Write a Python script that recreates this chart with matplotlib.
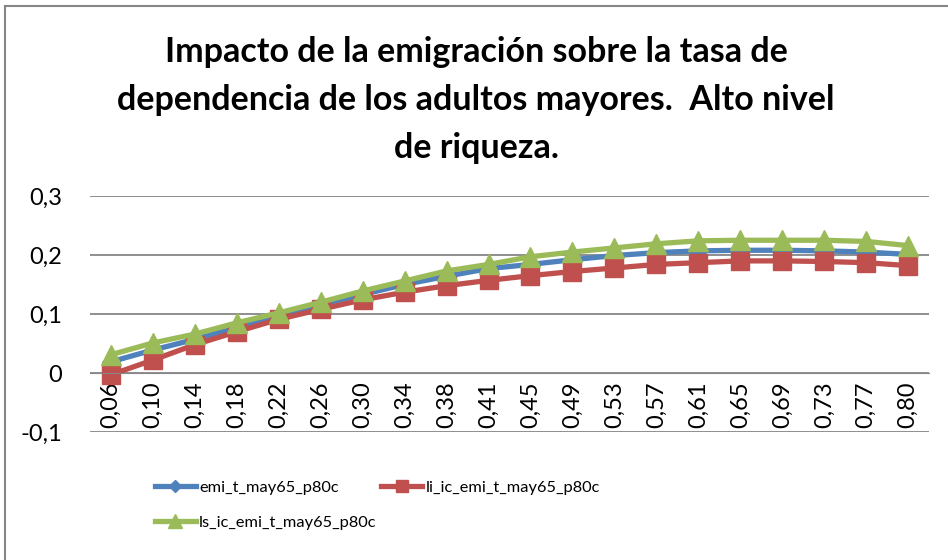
import matplotlib.pyplot as plt
from matplotlib.patches import Rectangle

# categorias del eje x
categorias = ["0,06", "0,10", "0,14", "0,18", "0,22", "0,26", "0,30", "0,34", "0,38", "0,41",
              "0,45", "0,49", "0,53", "0,57", "0,61", "0,65", "0,69", "0,73", "0,77", "0,80"]

emi_t = [0.019, 0.039, 0.057, 0.077, 0.097, 0.116, 0.133, 0.150, 0.164, 0.177,
         0.184, 0.192, 0.199, 0.204, 0.207, 0.208, 0.208, 0.207, 0.205, 0.201]
li_ic = [-0.003, 0.022, 0.048, 0.070, 0.091, 0.108, 0.124, 0.137, 0.148, 0.157,
         0.165, 0.172, 0.178, 0.184, 0.187, 0.190, 0.190, 0.189, 0.187, 0.182]
ls_ic = [0.031, 0.051, 0.066, 0.085, 0.102, 0.120, 0.139, 0.156, 0.173, 0.184,
         0.197, 0.205, 0.212, 0.219, 0.224, 0.225, 0.225, 0.225, 0.223, 0.216]

nombres = ["emi_t_may65_p80c", "li_ic_emi_t_may65_p80c", "ls_ic_emi_t_may65_p80c"]
titulo = ("Impacto de la emigración sobre la tasa de\n"
          "dependencia de los adultos mayores.  Alto nivel\n"
          "de riqueza.")

plt.rcParams['font.family'] = ['Lato', 'DejaVu Sans']

fig = plt.figure(figsize=(9.48, 5.6), dpi=100)
fig.patches.append(Rectangle((5 / 948, -0.1), 1.2, 1 - 6 / 560 + 0.1, transform=fig.transFigure,
                             fill=False, edgecolor='#868686', linewidth=1.5))
ax = fig.add_axes([90 / 948, 1 - 432 / 560, 839 / 948, 236 / 560])

x = list(range(len(categorias)))
l1, = ax.plot(x, emi_t, color='#4F81BD', lw=3.8, marker='D', ms=9, label=nombres[0])
l2, = ax.plot(x, li_ic, color='#C0504D', lw=3.8, marker='s', ms=13, label=nombres[1])
l3, = ax.plot(x, ls_ic, color='#9BBB59', lw=3.8, marker='^', ms=15, label=nombres[2])

ax.set_xlim(-0.5, len(categorias) - 0.5)
ax.set_ylim(-0.1, 0.3)
ax.set_yticks([-0.1, 0, 0.1, 0.2, 0.3])
ax.set_yticklabels(["-0,1", "0", "0,1", "0,2", "0,3"], fontsize=17)
ax.yaxis.grid(True, color='#868686', lw=1.3)
ax.set_axisbelow(True)
for s in ['top', 'right', 'left']:
    ax.spines[s].set_visible(False)
ax.spines['bottom'].set_position(('data', 0))
ax.spines['bottom'].set_color('#868686')
ax.tick_params(axis='y', length=0, pad=20)
ax.tick_params(axis='x', length=0, pad=6)
ax.set_xticks(x)
ax.set_xticklabels(categorias, rotation=90, fontsize=17)

fig.text(476 / 948, 1 - 100 / 560, titulo, ha='center', va='center', fontsize=24.5,
         fontweight='bold', linespacing=1.62)

fig.legend([l1, l3, l2], [nombres[0], nombres[2], nombres[1]], ncol=2, frameon=False,
           loc='upper left', bbox_to_anchor=(140 / 948, 1 - 466 / 560), fontsize=11.8,
           handlelength=2.5, handletextpad=0.2, columnspacing=0.3, labelspacing=1.25,
           markerscale=0.7)

fig.savefig("out.png", dpi=100)
